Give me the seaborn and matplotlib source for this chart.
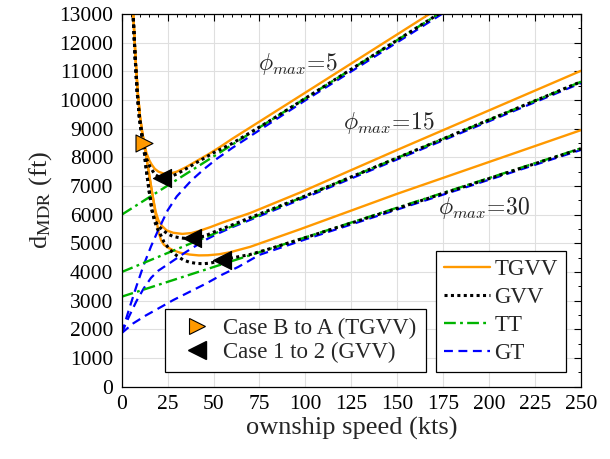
import numpy as np
import pandas as pd
import matplotlib
matplotlib.use("Agg")
import matplotlib.pyplot as plt
from matplotlib.lines import Line2D
import seaborn as sns

# ---------------- data ----------------
phi_values = [5, 15, 30]

# TGVV (orange solid)
tgvv5_x = [5.7, 6.3, 7.5, 8.7, 10.0, 11.2, 12.4, 13.5, 15.0, 16.3, 18.0, 20.0, 23.0, 26.3, 30.0, 35.4, 41.0, 47.0, 53.5, 60.0, 80.0, 100.0, 125.0, 150.0, 165.0, 175.0]
tgvv5_y = [14000, 13000, 11500, 10300, 9400, 8850, 8450, 8150, 7900, 7750, 7600, 7500, 7430, 7430, 7500, 7670, 7880, 8100, 8360, 8640, 9450, 10260, 11275, 12290, 12900, 13300]
tgvv15_x = [5.7, 6.3, 7.5, 8.7, 10.0, 11.2, 12.4, 14.0, 15.5, 17.0, 18.5, 20.0, 22.0, 24.5, 28.0, 33.0, 38.0, 42.0, 48.0, 55.0, 70.0, 97.0, 150.0, 200.0, 250.0]
tgvv15_y = [14000, 13000, 11500, 10300, 9400, 8850, 8420, 7780, 7180, 6600, 6100, 5800, 5600, 5450, 5370, 5330, 5360, 5430, 5560, 5730, 6060, 6770, 8260, 9640, 11020]
tgvv30_x = [5.7, 6.3, 7.5, 8.7, 10.0, 11.2, 12.4, 14.0, 15.5, 17.0, 18.5, 20.0, 21.5, 23.0, 25.0, 28.0, 32.0, 37.0, 42.0, 47.0, 53.0, 59.0, 70.0, 97.0, 150.0, 200.0, 250.0]
tgvv30_y = [14000, 13000, 11500, 10300, 9400, 8850, 8420, 7780, 7180, 6600, 6000, 5400, 5100, 4950, 4860, 4760, 4670, 4610, 4580, 4585, 4620, 4690, 4880, 5490, 6730, 7840, 8950]

# GVV (black dotted)
gvv5_x = [5.6, 6.2, 7.3, 8.4, 9.6, 10.8, 12.0, 13.5, 15.4, 18.1, 21.8, 25.0, 30.0, 35.0, 40.0, 50.0, 60.0, 80.0, 100.0, 150.0, 175.0]
gvv5_y = [14000, 13000, 11500, 10300, 9400, 8850, 8400, 7950, 7670, 7400, 7260, 7290, 7420, 7600, 7790, 8160, 8480, 9250, 10060, 12090, 13105]
gvv15_x = [5.6, 6.2, 7.3, 8.4, 9.6, 10.8, 12.0, 13.5, 15.0, 16.5, 18.0, 20.0, 22.6, 25.0, 28.0, 32.0, 35.4, 38.1, 45.0, 50.0, 60.0, 70.0, 80.0, 100.0, 150.0, 200.0, 250.0]
gvv15_y = [14000, 13000, 11500, 10300, 9400, 8850, 8350, 7500, 6800, 6150, 5800, 5600, 5450, 5330, 5240, 5190, 5170, 5176, 5250, 5390, 5640, 5900, 6150, 6655, 7983, 9310, 10638]
gvv30_x = [5.6, 6.2, 7.3, 8.4, 9.6, 10.8, 12.0, 13.5, 15.0, 16.5, 18.0, 19.5, 20.8, 23.0, 26.3, 30.0, 33.5, 37.0, 40.8, 44.5, 48.1, 51.0, 54.4, 59.0, 69.8, 80.0, 100.0, 150.0, 250.0]
gvv30_y = [14000, 13000, 11500, 10300, 9400, 8850, 8350, 7500, 6800, 6150, 5750, 5500, 5350, 5050, 4770, 4570, 4420, 4340, 4300, 4290, 4310, 4350, 4420, 4478, 4610, 4800, 5200, 6220, 8300]

# TT (green dash-dot, straight lines)
tt_x = [0.0, 250.0]
tt5_y = [6000, 16150]
tt15_y = [4000, 10638]
tt30_y = [3140, 8315]

# GT (blue dashed)
gt5_x = [0, 4, 8, 12, 16, 20, 25, 30, 38, 45, 52, 60, 75, 100, 130, 175]
gt5_y = [1870, 2700, 3500, 4250, 4900, 5480, 6150, 6640, 7200, 7600, 7960, 8320, 8950, 9990, 11200, 13030]
gt15_x = [0, 4, 8, 12, 16, 20, 27, 35, 45, 52, 60, 80, 100, 150, 200, 250]
gt15_y = [1870, 2450, 2980, 3430, 3800, 4050, 4350, 4700, 5100, 5330, 5560, 6080, 6600, 7930, 9260, 10590]
gt30_x = [0, 6.3, 13, 20, 28, 37, 46, 54.4, 63.5, 75, 100, 150, 250]
gt30_y = [1870, 2210, 2480, 2730, 3020, 3310, 3600, 3900, 4180, 4600, 5140, 6180, 8260]

# transition markers
caseBA_x = [12.4]
caseBA_y = [8500]
case12_x = [21.8, 38.1, 54.4]
case12_y = [7270, 5176, 4420]

# annotation positions
phi_label_x = [74, 120.3, 172]
phi_label_y = [11250, 9190, 6220]

series_names = ["TGVV", "GVV", "TT", "GT"]
case_names = ["Case B to A (TGVV)", "Case 1 to 2 (GVV)"]

# ---------------- style ----------------
sns.set_style("white")
plt.rcParams["font.family"] = ["Liberation Serif", "DejaVu Serif"]
plt.rcParams["mathtext.fontset"] = "stix"

ORANGE = "#FF9900"
GREEN = "#00B400"
BLUE = "#0000FF"

fig = plt.figure(figsize=(6.1, 4.59), dpi=100)
ax = fig.add_axes([0.1995, 0.1575, 0.753, 0.812])

tgvv = [(tgvv5_x, tgvv5_y), (tgvv15_x, tgvv15_y), (tgvv30_x, tgvv30_y)]
gvv = [(gvv5_x, gvv5_y), (gvv15_x, gvv15_y), (gvv30_x, gvv30_y)]
tt = [(tt_x, tt5_y), (tt_x, tt15_y), (tt_x, tt30_y)]
gt = [(gt5_x, gt5_y), (gt15_x, gt15_y), (gt30_x, gt30_y)]

LS_TT = (0, (5, 1.8, 1.2, 1.8))
LS_GT = (0, (4, 2.5))
LS_GVV = (0, (1, 1.1))

for (xs, ys) in tgvv:
    sns.lineplot(x=xs, y=ys, ax=ax, color=ORANGE, lw=1.7, sort=False,
                 estimator=None, zorder=2.0)
for (xs, ys) in gt:
    sns.lineplot(x=xs, y=ys, ax=ax, color=BLUE, lw=1.6, linestyle=LS_GT,
                 sort=False, estimator=None, zorder=2.1)
for (xs, ys) in tt:
    sns.lineplot(x=xs, y=ys, ax=ax, color=GREEN, lw=1.7, linestyle=LS_TT,
                 sort=False, estimator=None, zorder=2.2)
for (xs, ys) in gvv:
    sns.lineplot(x=xs, y=ys, ax=ax, color="black", lw=2.2, linestyle=LS_GVV,
                 sort=False, estimator=None, zorder=2.3)

sns.scatterplot(x=caseBA_x, y=caseBA_y, ax=ax, marker=">", s=150,
                color=ORANGE, edgecolor="black", linewidth=0.8, zorder=6)
sns.scatterplot(x=case12_x, y=case12_y, ax=ax, marker="<", s=170,
                color="black", edgecolor="black", linewidth=0.8, zorder=6)

for phi, lx, ly in zip(phi_values, phi_label_x, phi_label_y):
    ax.text(lx, ly, r"$\phi_{max}\!=\!%d$" % phi, fontsize=17, ha="left",
            va="center", math_fontfamily="cm", zorder=7)

# axes
ax.set_xlim(0, 250)
ax.set_ylim(0, 13000)
ax.set_xticks(np.arange(0, 251, 25))
ax.set_yticks(np.arange(0, 13001, 1000))
ax.set_xticks(np.arange(0, 251, 5), minor=True)
ax.set_yticks(np.arange(0, 13001, 500), minor=True)
ax.tick_params(which="both", direction="in", top=True, right=True,
               labelsize=15.5, colors="black")
ax.tick_params(which="major", length=5, width=0.8, pad=6)
ax.tick_params(which="minor", length=2.5, width=0.7)
ax.grid(True, which="major", color="#DFDFDF", lw=0.8)
ax.set_axisbelow(True)
for sp in ax.spines.values():
    sp.set_color("black")
    sp.set_linewidth(0.9)

ax.set_xlabel("ownship speed (kts)", fontsize=19, labelpad=2)
ax.set_ylabel(r"d$_{\mathrm{MDR}}$ (ft)", fontsize=19, labelpad=4)

# legends
line_handles = [
    Line2D([], [], color=ORANGE, lw=1.7),
    Line2D([], [], color="black", lw=2.2, linestyle=LS_GVV),
    Line2D([], [], color=GREEN, lw=1.7, linestyle=LS_TT),
    Line2D([], [], color=BLUE, lw=1.6, linestyle=LS_GT),
]
leg1 = ax.legend(line_handles, series_names, loc="lower right",
                 bbox_to_anchor=(0.9673, 0.0402), borderaxespad=0,
                 fontsize=16.5, handlelength=2.0, handletextpad=0.2,
                 labelspacing=0.3, borderpad=0.35, fancybox=False,
                 framealpha=1, edgecolor="black")
leg1.get_frame().set_linewidth(0.9)
ax.add_artist(leg1)

marker_handles = [
    Line2D([], [], marker=">", linestyle="none", markersize=12,
           markerfacecolor=ORANGE, markeredgecolor="black", markeredgewidth=0.8),
    Line2D([], [], marker="<", linestyle="none", markersize=13,
           markerfacecolor="black", markeredgecolor="black"),
]
leg2 = ax.legend(marker_handles, case_names, loc="lower left",
                 bbox_to_anchor=(0.0943, 0.0402), borderaxespad=0,
                 fontsize=16.5, handlelength=2.0, handletextpad=0.15,
                 labelspacing=0.1, borderpad=0.4, fancybox=False,
                 framealpha=1, edgecolor="black")
leg2.get_frame().set_linewidth(0.9)

fig.savefig("out.png", dpi=100)
